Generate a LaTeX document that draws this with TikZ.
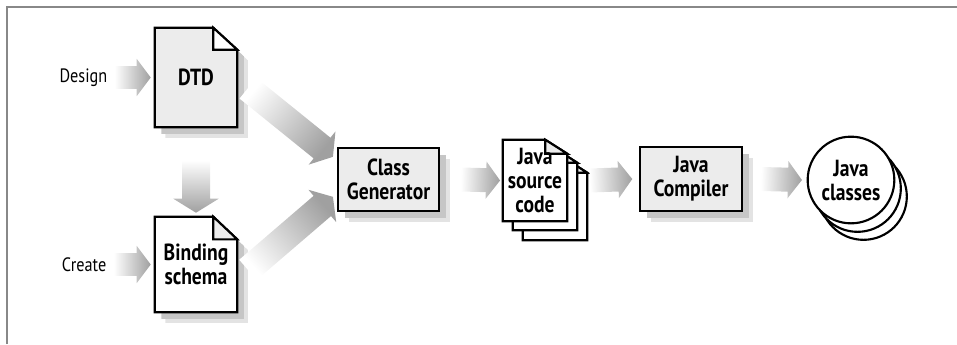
\documentclass[tikz,border=0pt]{standalone}
\usepackage{fontspec}
\setmainfont{PT Sans}[FakeStretch=0.84]
\usetikzlibrary{shapes,arrows,positioning,calc,shadows,backgrounds}
\definecolor{boxgray}{RGB}{236,236,236}
\definecolor{framegray}{RGB}{136,136,136}
\definecolor{arrowgray}{RGB}{160,160,160}

% wide shaded arrow: from, to, half body width, half head width
\newcommand{\fatarrow}[4]{%
  \coordinate (fats) at (#1);
  \coordinate (fate) at (#2);
  \pgfmathanglebetweenpoints{\pgfpointanchor{fats}{center}}{\pgfpointanchor{fate}{center}}%
  \pgfmathsetmacro\fatang{\pgfmathresult-90}%
  \coordinate (fatm) at ($(fate)!10.5pt!(fats)$);
  \shade[bottom color=white, top color=arrowgray, shading angle=\fatang]
    ($(fats)!#3!90:(fate)$) -- ($(fatm)!#3!90:(fate)$) -- ($(fatm)!#4!90:(fate)$) -- (fate)
    -- ($(fatm)!#4!-90:(fate)$) -- ($(fatm)!#3!-90:(fate)$) -- ($(fats)!#3!-90:(fate)$) -- cycle;
}

% page outline with dog-ear round a node: node, fold w, fold h, fill, fold fill
\newcommand{\docoutline}[6][]{%
  \draw[docline, fill=#5, #1] (#2.north west) -- ([xshift=-#3]#2.north east) -- ([yshift=-#4]#2.north east)
    -- (#2.south east) -- (#2.south west) -- cycle;
  \draw[docline, fill=#6] ([xshift=-#3]#2.north east) -- ([xshift=-#3,yshift=-#4]#2.north east)
    -- ([yshift=-#4]#2.north east) -- cycle;
}

\begin{document}
\begin{tikzpicture}[x=0.75pt, y=-0.75pt,
    softshadow/.style={general shadow={fill=gray!22, shadow xshift=8pt, shadow yshift=-8pt},
                       general shadow={fill=gray!45, shadow xshift=5pt, shadow yshift=-5pt}},
    box/.style={rectangle, draw, line width=1.6pt, fill=boxgray, inner sep=0pt, align=center,
                font=\fontsize{17.5}{18}\selectfont\bfseries, softshadow},
    docnode/.style={rectangle, inner sep=0pt, align=center, font=\fontsize{17.5}{18}\selectfont\bfseries},
    classdisk/.style={circle, draw, line width=1.6pt, fill=white, minimum size=65pt, inner sep=0pt,
                align=center, font=\fontsize{17.5}{18}\selectfont\bfseries},
    sidetext/.style={anchor=east, font=\fontsize{14.5}{15}\selectfont},
    docline/.style={line width=1.6pt, line join=miter}
]
\useasboundingbox (0,0) rectangle (957,344);
\draw[framegray, line width=1.5pt] (7,344) -- (7,7) -- (957,7);

\node[sidetext] (design) at (112,77.5) {Design};
\node[sidetext] (create) at (111,264.5) {Create};
\node[docnode, minimum width=61.5pt, minimum height=74.25pt] (dtd) at (196,77.5) {DTD};
\node[docnode, minimum width=61.5pt, minimum height=71.25pt] (bind) at (196,264.5) {Binding\\schema};
\node[box, minimum width=75.75pt, minimum height=47.25pt] (gen) at (388.5,179.5) {Class\\Generator};
\node[docnode, minimum width=48pt, minimum height=60.75pt] (src3) at (555,199.5) {};
\node[docnode, minimum width=48pt, minimum height=60.75pt] (src2) at (545,189.5) {};
\node[docnode, minimum width=48pt, minimum height=60.75pt] (src) at (535,180.5) {Java\\source\\code};
\node[box, minimum width=76.5pt, minimum height=48pt] (comp) at (691,179) {Java\\Compiler};
\node[classdisk] (cls3) at (863.5,196.5) {};
\node[classdisk] (cls2) at (857.5,188.5) {};
\node[classdisk] (cls) at (851,180) {Java\\classes};

\begin{pgfonlayer}{background}
\docoutline[softshadow]{dtd}{18pt}{16.5pt}{boxgray}{white}
\docoutline[softshadow]{bind}{18pt}{17pt}{white}{boxgray}
\docoutline{src3}{16.5pt}{10.5pt}{white}{boxgray}
\docoutline{src2}{16.5pt}{10.5pt}{white}{boxgray}
\docoutline{src}{16.5pt}{10.5pt}{white}{boxgray}
\end{pgfonlayer}

\fatarrow{[xshift=2pt]design.east}{[xshift=-3pt]dtd.west}{8.5pt}{14pt}
\fatarrow{[xshift=2pt]create.east}{[xshift=-3pt]bind.west}{8.5pt}{14pt}
\fatarrow{[yshift=-24.75pt]dtd.south}{[yshift=3pt]bind.north}{10.5pt}{17pt}
\fatarrow{[xshift=8pt,yshift=-8pt]dtd.east}{[xshift=-3pt,yshift=17pt]gen.west}{10pt}{16pt}
\fatarrow{[xshift=8pt,yshift=-4pt]bind.east}{[xshift=-3pt,yshift=-13pt]gen.west}{10pt}{16pt}
\fatarrow{[xshift=15.75pt]gen.east}{[xshift=-2pt]src.west}{9pt}{14pt}
\fatarrow{[xshift=17pt]src.east}{[xshift=-5pt]comp.west}{9pt}{14pt}
\fatarrow{[xshift=13.5pt]comp.east}{[xshift=-3.5pt]cls.west}{9pt}{14pt}
\end{tikzpicture}
\end{document}
